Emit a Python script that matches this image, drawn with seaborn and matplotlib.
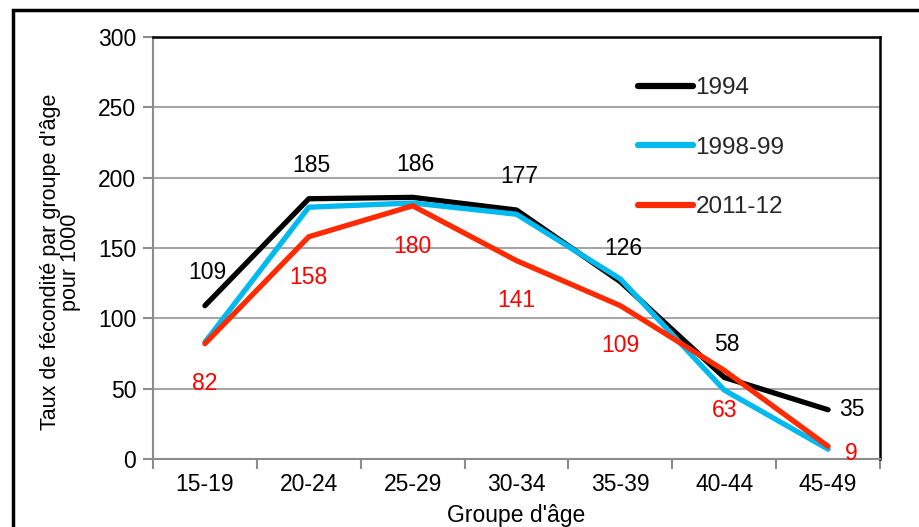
import matplotlib
matplotlib.use("Agg")
import matplotlib.pyplot as plt
from matplotlib.patches import Rectangle
import seaborn as sns
import pandas as pd

# Fertility rates by age group, per 1000 women
age_groups = ["15-19", "20-24", "25-29", "30-34", "35-39", "40-44", "45-49"]
rates_1994 = [109, 185, 186, 177, 126, 58, 35]
rates_1998 = [83, 179, 182, 174, 128, 49, 7]
rates_2011 = [82, 158, 180, 141, 109, 63, 9]
series_names = ["1994", "1998-99", "2011-12"]

colors = {"1994": "#000000", "1998-99": "#00B9EE", "2011-12": "#FF2A00"}

rows = []
for name, vals in zip(series_names, [rates_1994, rates_1998, rates_2011]):
    for i, (g, v) in enumerate(zip(age_groups, vals)):
        rows.append({"pos": i, "group": g, "rate": v, "series": name})
df = pd.DataFrame(rows)

sns.set_theme(style="white")
plt.rcParams["font.family"] = ["Liberation Sans", "DejaVu Sans"]

fig = plt.figure(figsize=(9.2, 5.27), dpi=100)
ax = fig.add_axes([153 / 920, 1 - 459 / 527, (880 - 153) / 920, (459 - 37) / 527])

sns.lineplot(data=df, x="pos", y="rate", hue="series", hue_order=series_names,
             palette=colors, linewidth=3.8, ax=ax, legend=True)
for line in ax.lines:
    line.set_solid_capstyle("round")

ax.set_xlim(-0.5, len(age_groups) - 0.5)
ax.set_ylim(0, 300)
ax.set_yticks(range(0, 301, 50))
ax.set_xticks([i - 0.5 for i in range(len(age_groups) + 1)])
ax.set_xticklabels([])
ax.set_xticks(range(len(age_groups)), minor=True)
ax.set_xticklabels(age_groups, minor=True)

fs = 16.5
ax.tick_params(axis="x", which="major", direction="out", length=7, width=1.5,
               color="#8c8c8c", bottom=True)
ax.tick_params(axis="x", which="minor", length=0, labelsize=fs, pad=10,
               labelcolor="black")
ax.tick_params(axis="y", direction="out", length=7, width=1.5, color="#8c8c8c",
               left=True, labelsize=fs, pad=5, labelcolor="black")

ax.yaxis.grid(True, color="#a6a6a6", linewidth=1.5)
ax.set_axisbelow(True)

for side in ["left", "bottom"]:
    ax.spines[side].set_color("#8c8c8c")
    ax.spines[side].set_linewidth(1.5)
for side in ["top", "right"]:
    ax.spines[side].set_color("black")
    ax.spines[side].set_linewidth(1.8)

ax.set_xlabel("Groupe d'âge", fontsize=16.5, color="black")
ax.set_ylabel("Taux de fécondité par groupe d'âge\npour 1000", fontsize=15.5,
              color="black", linespacing=0.95)
ax.xaxis.set_label_coords(0.5, -(504 - 459) / 422)
ax.yaxis.set_label_coords((81 - 153) / 727, (459 - 262) / 422)

# Value labels: 1994 above its points, 2011-12 below
last = len(age_groups) - 1
for i, v in enumerate(rates_1994):
    if i == last:
        ax.annotate(str(v), (i, v), xytext=(8, 0), textcoords="offset points",
                    ha="left", va="center", fontsize=fs, color="black")
    else:
        ax.annotate(str(v), (i, v), xytext=(2, 24), textcoords="offset points",
                    ha="center", va="center", fontsize=fs, color="black")
for i, v in enumerate(rates_2011):
    if i == last:
        ax.annotate(str(v), (i, v), xytext=(12, -5), textcoords="offset points",
                    ha="left", va="center", fontsize=fs, color="#FF0000")
    else:
        ax.annotate(str(v), (i, v), xytext=(0, -29), textcoords="offset points",
                    ha="center", va="center", fontsize=fs, color="#FF0000")

leg = ax.legend(loc="upper left", bbox_to_anchor=((638 - 153) / 727, 1 - (77 - 37) / 422),
                frameon=False, fontsize=17.5, handlelength=2.25, handletextpad=0.12,
                labelspacing=1.55, borderpad=0, borderaxespad=0)
for h in leg.get_lines():
    h.set_linewidth(4.5)
    h.set_solid_capstyle("round")

# Outer frame around the chart
fig.patches.append(Rectangle((13 / 920, -0.2), 1.2, 1 - 10 / 527 + 0.2,
                             transform=fig.transFigure, fill=False,
                             edgecolor="black", linewidth=2.5, zorder=0))

fig.savefig("out.png", dpi=100, facecolor="white")
